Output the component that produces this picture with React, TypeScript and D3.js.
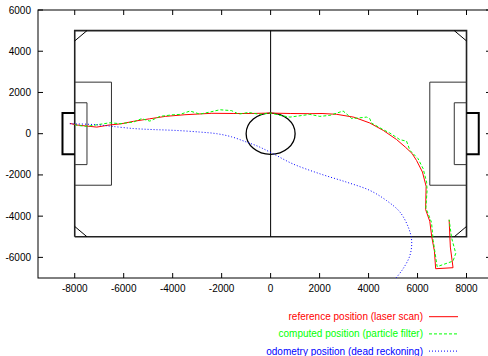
import React from "react";
import * as d3 from "d3";

type Pt = [number, number];

const xTicks = [-8000, -6000, -4000, -2000, 0, 2000, 4000, 6000, 8000];
const yTicks = [-6000, -4000, -2000, 0, 2000, 4000, 6000];

// reference position (laser scan)
const reference: Pt[] = [
  [-8200, 500], [-7900, 420], [-7500, 370], [-7100, 320], [-6600, 420], [-6100, 480],
  [-5600, 600], [-4950, 720], [-4300, 840], [-3500, 920], [-2400, 990], [-1500, 980],
  [-800, 980], [0, 1000], [800, 980], [1600, 970], [2100, 980], [2700, 940], [3400, 800],
  [4050, 520], [4600, 160], [5140, -280], [5500, -650], [5770, -950], [5960, -1300],
  [6200, -1860], [6350, -2550], [6330, -3680], [6500, -4250], [6580, -5000], [6690, -5700],
  [6740, -6550], [7450, -6500], [7340, -5500], [7320, -5000], [7290, -4180],
];

// computed position (particle filter)
const computed: Pt[] = [
  [-8000, 450], [-7900, 400], [-7500, 355], [-7000, 450], [-6560, 530], [-6150, 485],
  [-5600, 565], [-5270, 730], [-4930, 610], [-4520, 840], [-3980, 920], [-3700, 935],
  [-3290, 1100], [-2890, 950], [-2480, 1050], [-2070, 1160], [-1600, 1120], [-1300, 950],
  [-900, 1030], [-440, 935], [0, 1000], [380, 890], [790, 805], [1200, 870], [1600, 935],
  [2010, 840], [2420, 890], [2960, 1100], [3170, 890], [3310, 730], [3920, 805], [4050, 730],
  [4120, 515], [4600, 195], [4870, 30], [5280, -290], [5550, -360], [5690, -810],
  [6020, -1210], [6230, -1700], [6370, -2350], [6390, -2750], [6340, -3600], [6570, -4300],
  [6640, -5180], [6800, -6450], [7450, -6180], [7560, -5800], [7390, -5050], [7290, -4170],
];

// odometry position (dead reckoning)
const odometry: Pt[] = [
  [-8200, 480], [-7500, 460], [-6970, 420], [-6500, 360], [-5600, 250], [-4800, 200],
  [-3900, 160], [-2900, 80], [-2200, 0], [-1600, -150], [-1000, -400], [-500, -620],
  [100, -970], [900, -1460], [2000, -1940], [3100, -2350], [4050, -2750], [4730, -3240],
  [5280, -3800], [5620, -4530], [5760, -5180], [5690, -5900], [5410, -6550], [5050, -7100],
];

// soccer field markings (mm)
const fieldBorder: Pt[] = [[-8000, -5000], [8000, -5000], [8000, 5000], [-8000, 5000], [-8000, -5000]];
const centerLine: Pt[] = [[0, 5000], [0, -5000]];
const penaltyAreas: Pt[][] = [
  [[-8000, 2500], [-6500, 2500], [-6500, -2500], [-8000, -2500]],
  [[8000, 2500], [6500, 2500], [6500, -2500], [8000, -2500]],
];
const goalAreas: Pt[][] = [
  [[-8000, 1500], [-7500, 1500], [-7500, -1500], [-8000, -1500]],
  [[8000, 1500], [7500, 1500], [7500, -1500], [8000, -1500]],
];
const goals: Pt[][] = [
  [[-8000, 1000], [-8500, 1000], [-8500, -1000], [-8000, -1000]],
  [[8000, 1000], [8500, 1000], [8500, -1000], [8000, -1000]],
];
const corners: Pt[][] = [
  [[-8000, 4500], [-7500, 5000]],
  [[7500, 5000], [8000, 4500]],
  [[-8000, -4500], [-7500, -5000]],
  [[7500, -5000], [8000, -4500]],
];
const centerCircleRadius = 1000;

const legendItems = [
  { label: "reference position (laser scan)", color: "#ff0000", dash: "none" },
  { label: "computed position (particle filter)", color: "#00ff00", dash: "3,2" },
  { label: "odometry position (dead reckoning)", color: "#0000ff", dash: "1,2" },
];

const W = 488;
const H = 356;
const margin = { left: 38, top: 10, right: 491, bottom: 278 };
const font = "'Liberation Sans', Arial, sans-serif";

export default function App() {
  const x = d3.scaleLinear().domain([-9500, 9000]).range([margin.left, margin.right]);
  const y = d3.scaleLinear().domain([-7000, 6000]).range([margin.bottom, margin.top]);

  const line = d3
    .line<Pt>()
    .x((d) => x(d[0]))
    .y((d) => y(d[1]));
  const smooth = d3
    .line<Pt>()
    .x((d) => x(d[0]))
    .y((d) => y(d[1]))
    .curve(d3.curveCatmullRom);

  const rx = x(centerCircleRadius) - x(0);
  const ry = y(0) - y(centerCircleRadius);
  const tickLen = 5;

  return (
    <svg
      width={W}
      height={H}
      style={{ position: "absolute", left: 0, top: 0, background: "#fff" }}
      fontFamily={font}
    >
      <defs>
        <clipPath id="plot">
          <rect
            x={margin.left}
            y={margin.top}
            width={margin.right - margin.left}
            height={margin.bottom - margin.top}
          />
        </clipPath>
      </defs>

      {/* frame */}
      <rect
        x={margin.left}
        y={margin.top}
        width={margin.right - margin.left}
        height={margin.bottom - margin.top}
        fill="none"
        stroke="#000"
        strokeWidth={1}
      />

      {/* ticks + labels */}
      {xTicks.map((t) => (
        <g key={"x" + t}>
          <line x1={x(t)} x2={x(t)} y1={margin.bottom} y2={margin.bottom - tickLen} stroke="#000" />
          <line x1={x(t)} x2={x(t)} y1={margin.top} y2={margin.top + tickLen} stroke="#000" />
          <text x={x(t)} y={292} fontSize={10} textAnchor="middle" fill="#000">
            {t}
          </text>
        </g>
      ))}
      {yTicks.map((t) => (
        <g key={"y" + t}>
          <line x1={margin.left} x2={margin.left + tickLen} y1={y(t)} y2={y(t)} stroke="#000" />
          <line x1={margin.right} x2={margin.right - tickLen} y1={y(t)} y2={y(t)} stroke="#000" />
          <text x={31} y={y(t) + 3.5} fontSize={10} textAnchor="end" fill="#000">
            {t}
          </text>
        </g>
      ))}

      <g clipPath="url(#plot)" fill="none">
        {/* field */}
        <path d={line(fieldBorder) ?? ""} stroke="#222" strokeWidth={1.6} />
        <path d={line(centerLine) ?? ""} stroke="#000" strokeWidth={1} />
        {penaltyAreas.map((p, i) => (
          <path key={"pa" + i} d={line(p) ?? ""} stroke="#333" strokeWidth={1} />
        ))}
        {goalAreas.map((p, i) => (
          <path key={"ga" + i} d={line(p) ?? ""} stroke="#333" strokeWidth={1} />
        ))}
        {goals.map((p, i) => (
          <path key={"g" + i} d={line(p) ?? ""} stroke="#000" strokeWidth={2} />
        ))}
        {corners.map((p, i) => (
          <path key={"c" + i} d={line(p) ?? ""} stroke="#000" strokeWidth={1} />
        ))}
        <ellipse cx={x(0)} cy={y(0)} rx={rx} ry={ry} stroke="#000" strokeWidth={1.3} />

        {/* trajectories */}
        <path d={line(reference) ?? ""} stroke="#ff0000" strokeWidth={1} />
        <path d={line(computed) ?? ""} stroke="#00ff00" strokeWidth={1} strokeDasharray="3,2" />
        <path d={smooth(odometry) ?? ""} stroke="#0000ff" strokeWidth={1} strokeDasharray="1,2" />
      </g>

      {/* legend */}
      {legendItems.map((d, i) => {
        const ly = 316.7 + i * 17.2;
        return (
          <g key={d.label}>
            <text x={423} y={ly + 3.5} fontSize={10} textAnchor="end" fill={d.color}>
              {d.label}
            </text>
            <line
              x1={429}
              x2={458}
              y1={ly}
              y2={ly}
              stroke={d.color}
              strokeWidth={1}
              strokeDasharray={d.dash}
            />
          </g>
        );
      })}
    </svg>
  );
}
